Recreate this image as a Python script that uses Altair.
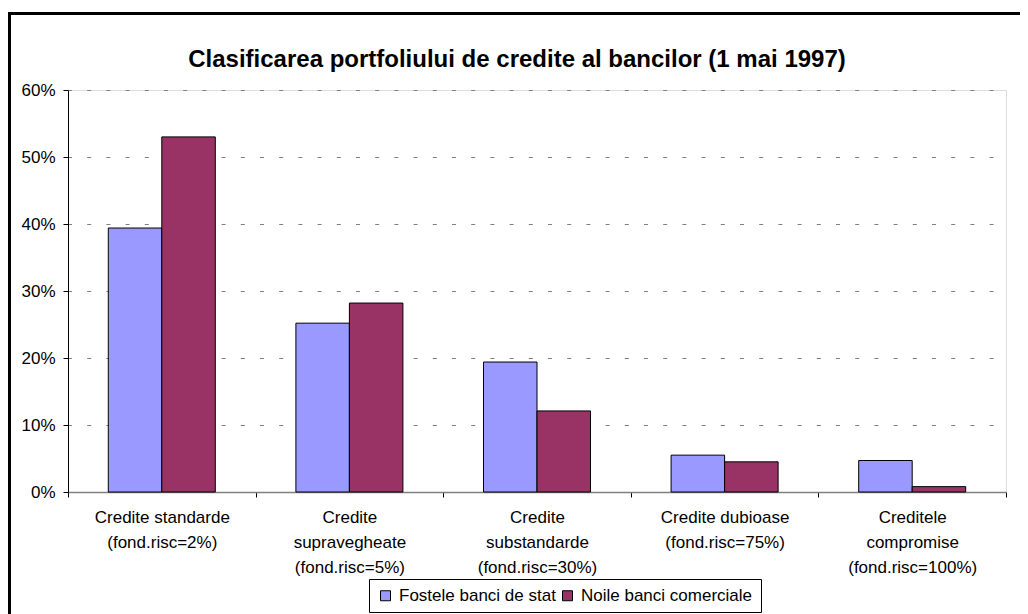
import altair as alt
import pandas as pd

categories = [
    "Credite standarde|(fond.risc=2%)",
    "Credite|supravegheate|(fond.risc=5%)",
    "Credite|substandarde|(fond.risc=30%)",
    "Credite dubioase|(fond.risc=75%)",
    "Creditele|compromise|(fond.risc=100%)",
]
series = ["Fostele banci de stat", "Noile banci comerciale"]
fostele = [0.394, 0.252, 0.194, 0.055, 0.047]
noile = [0.530, 0.282, 0.121, 0.045, 0.008]
colors = ["#9999FF", "#993366"]
y_ticks = [0, 0.1, 0.2, 0.3, 0.4, 0.5, 0.6]
title_text = "Clasificarea portfoliului de credite al bancilor (1 mai 1997)"

rows = []
for c, a, b in zip(categories, fostele, noile):
    rows.append({"cat": c, "serie": series[0], "val": a})
    rows.append({"cat": c, "serie": series[1], "val": b})
df = pd.DataFrame(rows)

FONT = "Liberation Sans"

bars = alt.Chart(df).mark_bar(stroke="black", strokeWidth=1).encode(
    x=alt.X("cat:N", sort=categories, title=None,
            scale=alt.Scale(paddingInner=0, paddingOuter=0),
            axis=alt.Axis(labelExpr="split(datum.label, '|')", labelAngle=0,
                          labelFont=FONT, labelFontSize=17, labelColor="black",
                          labelLineHeight=25, labelPadding=12, labelLimit=0,
                          tickBand="extent", tickColor="black", tickSize=5,
                          domainColor="#808080", domainWidth=1.5, grid=False)),
    xOffset=alt.XOffset("serie:N", sort=series,
                        scale=alt.Scale(paddingInner=0, paddingOuter=0.753)),
    y=alt.Y("val:Q", title=None,
            scale=alt.Scale(domain=[0, 0.6], nice=False),
            axis=alt.Axis(values=y_ticks, format=".0%", labelFont=FONT,
                          labelFontSize=17, labelColor="black", labelPadding=8,
                          tickColor="black", tickSize=5, domainColor="black",
                          grid=True, gridColor="#808080", gridDash=[4, 15.2],
                          gridDashOffset=0.5)),
    color=alt.Color("serie:N", sort=series, title=None,
                    scale=alt.Scale(domain=series, range=colors),
                    legend=alt.Legend(orient="none", legendX=301, legendY=489,
                                      direction="horizontal", columns=2,
                                      symbolType="square", symbolSize=100,
                                      symbolStrokeColor="black", symbolStrokeWidth=1,
                                      labelFont=FONT, labelFontSize=17,
                                      labelColor="black", labelOffset=5,
                                      labelLimit=0,
                                      columnPadding=3,
                                      padding=8,
                                      strokeColor="black", fillColor="white")),
)

one = pd.DataFrame({"k": [0]})

frame_left = alt.Chart(one).mark_rule(color="black", strokeWidth=3).encode(
    x=alt.value(-58.5), y=alt.value(-78), y2=alt.value(540)
)
frame_top = alt.Chart(one).mark_rule(color="black", strokeWidth=3).encode(
    x=alt.value(-60), x2=alt.value(1000), y=alt.value(-76.5)
)

title = alt.Chart(one).mark_text(
    text=title_text, font=FONT, fontSize=24, fontWeight="bold", color="black",
    align="center", baseline="alphabetic"
).encode(x=alt.value(449), y=alt.value(-23))

chart = alt.layer(bars, frame_left, frame_top, title).properties(
    width=938, height=402,
    autosize=alt.AutoSizeParams(type="none"),
    padding={"left": 60, "top": 82, "right": 14, "bottom": 122},
).configure_view(stroke=None).configure(background="white")

chart.save("out.html", embed_options={"renderer": "svg", "actions": False})
